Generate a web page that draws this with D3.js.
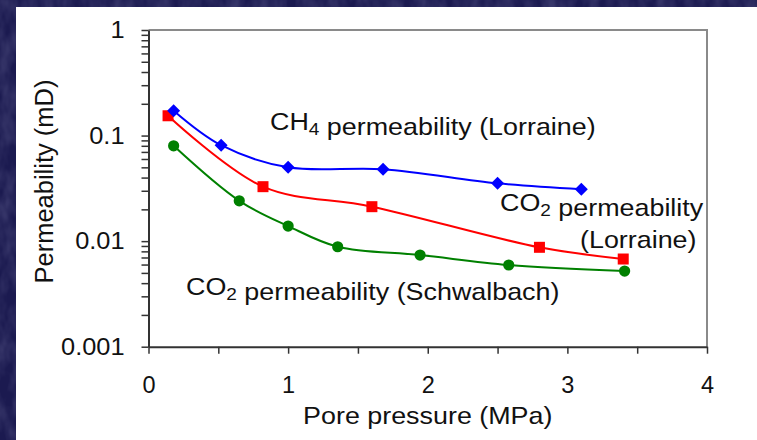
<!DOCTYPE html>
<html>
<head>
<meta charset="utf-8">
<script src="https://cdn.jsdelivr.net/npm/d3@7"></script>
<style>
  html, body { margin: 0; padding: 0; background: #1b1a4d; }
  svg { display: block; }
  text { font-family: "Liberation Sans", Arial, sans-serif; fill: #111; }
</style>
</head>
<body>
<svg id="chart" width="757" height="440"></svg>
<script>
// Pore pressure (MPa) and permeability (mD) for each sample
const ch4PressureLorraine = [0.18, 0.52, 1.0, 1.68, 2.5, 3.1];
const ch4PermLorraine     = [0.172, 0.081, 0.050, 0.048, 0.0353, 0.031];

const co2PressureLorraine = [0.14, 0.82, 1.6, 2.8, 3.4];
const co2PermLorraine     = [0.154, 0.0328, 0.0212, 0.00874, 0.00677];

const co2PressureSchwalbach = [0.18, 0.65, 1.0, 1.355, 1.945, 2.58, 3.41];
const co2PermSchwalbach     = [0.080, 0.0241, 0.0139, 0.00885, 0.00738, 0.00594, 0.00521];

const xTicks = [0, 1, 2, 3, 4];
const xMinorTicks = [0.5, 1.5, 2.5, 3.5];
const yTicks = [0.001, 0.01, 0.1, 1];

const svg = d3.select("#chart");
const W = 757, H = 440;

// Mottled navy backdrop
const defs = svg.append("defs");
const f = defs.append("filter").attr("id", "mottle").attr("x", 0).attr("y", 0).attr("width", 1).attr("height", 1);
f.append("feTurbulence").attr("type", "fractalNoise").attr("baseFrequency", "0.07 0.035").attr("numOctaves", 3).attr("seed", 7).attr("result", "n");
f.append("feColorMatrix").attr("in", "n").attr("type", "matrix")
  .attr("values", "0 0 0 0 0.22  0 0 0 0 0.22  0 0 0 0 0.42  0.55 0 0 0 -0.18");
svg.append("rect").attr("width", W).attr("height", H).attr("fill", "#1b1a50");
svg.append("rect").attr("width", W).attr("height", H).attr("filter", "url(#mottle)");

// White chart panel
svg.append("rect").attr("x", 16).attr("y", 7).attr("width", W - 16).attr("height", H - 7).attr("fill", "#fff");

const x = d3.scaleLinear().domain([0, 4]).range([148.5, 707]);
const y = d3.scaleLog().domain([0.001, 1]).range([346.7, 30]);

// Plot frame (top and right edges)
svg.append("path")
  .attr("d", `M${x(0)},${y(1)}H${x(4)}V${y(0.001)}`)
  .attr("fill", "none").attr("stroke", "#8a8a8a").attr("stroke-width", 2);

// Y axis with minor ticks at 2..9 of each decade
const yMinor = [];
[0.001, 0.01, 0.1].forEach(d => { for (let k = 2; k <= 9; k++) yMinor.push(d * k); });
const gyMinor = svg.append("g").attr("transform", `translate(${x(0)},0)`)
  .call(d3.axisLeft(y).tickValues(yMinor).tickSize(7).tickFormat(""));
gyMinor.select(".domain").remove();
gyMinor.selectAll("line").attr("stroke", "#333").attr("stroke-width", 1.5);

const gy = svg.append("g").attr("transform", `translate(${x(0)},0)`)
  .call(d3.axisLeft(y).tickValues(yTicks).tickSize(7).tickSizeOuter(0).tickPadding(17)
    .tickFormat(d => d3.format("~g")(d)));
gy.select(".domain").attr("stroke", "#333").attr("stroke-width", 2);
gy.selectAll("line").attr("stroke", "#333").attr("stroke-width", 1.5);
gy.selectAll("text")
  .attr("font-size", 23.5).attr("fill", "#111")
  .attr("transform", "translate(-24,0) scale(1.08,1)").attr("x", 0);

// X axis
const gxMinor = svg.append("g").attr("transform", `translate(0,${y(0.001)})`)
  .call(d3.axisBottom(x).tickValues(xMinorTicks).tickSize(7).tickFormat(""));
gxMinor.select(".domain").remove();
gxMinor.selectAll("line").attr("stroke", "#333").attr("stroke-width", 1.5);

const gx = svg.append("g").attr("transform", `translate(0,${y(0.001)})`)
  .call(d3.axisBottom(x).tickValues(xTicks).tickSize(7).tickSizeOuter(0).tickPadding(23).tickFormat(d3.format("d")));
gx.select(".domain").attr("stroke", "#333").attr("stroke-width", 2);
gx.selectAll("line").attr("stroke", "#333").attr("stroke-width", 1.5);
gx.selectAll("text").attr("font-size", 23.5).attr("fill", "#111");

// Axis titles
svg.append("text")
  .attr("transform", `translate(${(x(0) + x(4)) / 2},423.5) scale(1.12,1)`)
  .attr("text-anchor", "middle").attr("font-size", 24)
  .text("Pore pressure (MPa)");

svg.append("text")
  .attr("transform", "translate(52.5,181.5) rotate(-90)")
  .attr("text-anchor", "middle").attr("font-size", 25.5)
  .text("Permeability (mD)");

// Series
const series = [
  { xs: co2PressureSchwalbach, ys: co2PermSchwalbach, color: "#008000", marker: "circle" },
  { xs: co2PressureLorraine, ys: co2PermLorraine, color: "#ff0000", marker: "square" },
  { xs: ch4PressureLorraine, ys: ch4PermLorraine, color: "#0000ff", marker: "diamond" }
];

const line = d3.line().x(d => x(d[0])).y(d => y(d[1])).curve(d3.curveCatmullRom.alpha(0.5));

series.forEach(s => {
  const pts = s.xs.map((v, i) => [v, s.ys[i]]);
  svg.append("path").datum(pts).attr("d", line)
    .attr("fill", "none").attr("stroke", s.color).attr("stroke-width", 2);
});

series.forEach(s => {
  const pts = s.xs.map((v, i) => [v, s.ys[i]]);
  const g = svg.append("g");
  if (s.marker === "circle") {
    g.selectAll("circle").data(pts).join("circle")
      .attr("cx", d => x(d[0])).attr("cy", d => y(d[1])).attr("r", 5.6).attr("fill", s.color);
  } else if (s.marker === "square") {
    g.selectAll("rect").data(pts).join("rect")
      .attr("x", d => x(d[0]) - 5.5).attr("y", d => y(d[1]) - 5.5)
      .attr("width", 11).attr("height", 11).attr("fill", s.color);
  } else {
    g.selectAll("path").data(pts).join("path")
      .attr("transform", d => `translate(${x(d[0])},${y(d[1])})`)
      .attr("d", "M0,-6.5L6.5,0L0,6.5L-6.5,0Z").attr("fill", s.color);
  }
});

// Series labels
function label(px, py, parts) {
  const t = svg.append("text")
    .attr("transform", `translate(${px},${py}) scale(1.12,1)`)
    .attr("font-size", 24);
  parts.forEach(p => {
    if (p.sub) {
      t.append("tspan").attr("font-size", 17).attr("dy", 5).text(p.sub);
      t.append("tspan").attr("dy", -5).text("");
    } else {
      t.append("tspan").text(p.t);
    }
  });
}
label(270, 130, [{ t: "CH" }, { sub: "4" }, { t: " permeability (Lorraine)" }]);
label(500, 210.5, [{ t: "CO" }, { sub: "2" }, { t: " permeability" }]);
label(580, 248, [{ t: "(Lorraine)" }]);
label(186, 294.5, [{ t: "CO" }, { sub: "2" }, { t: " permeability (Schwalbach)" }]);
</script>
</body>
</html>
